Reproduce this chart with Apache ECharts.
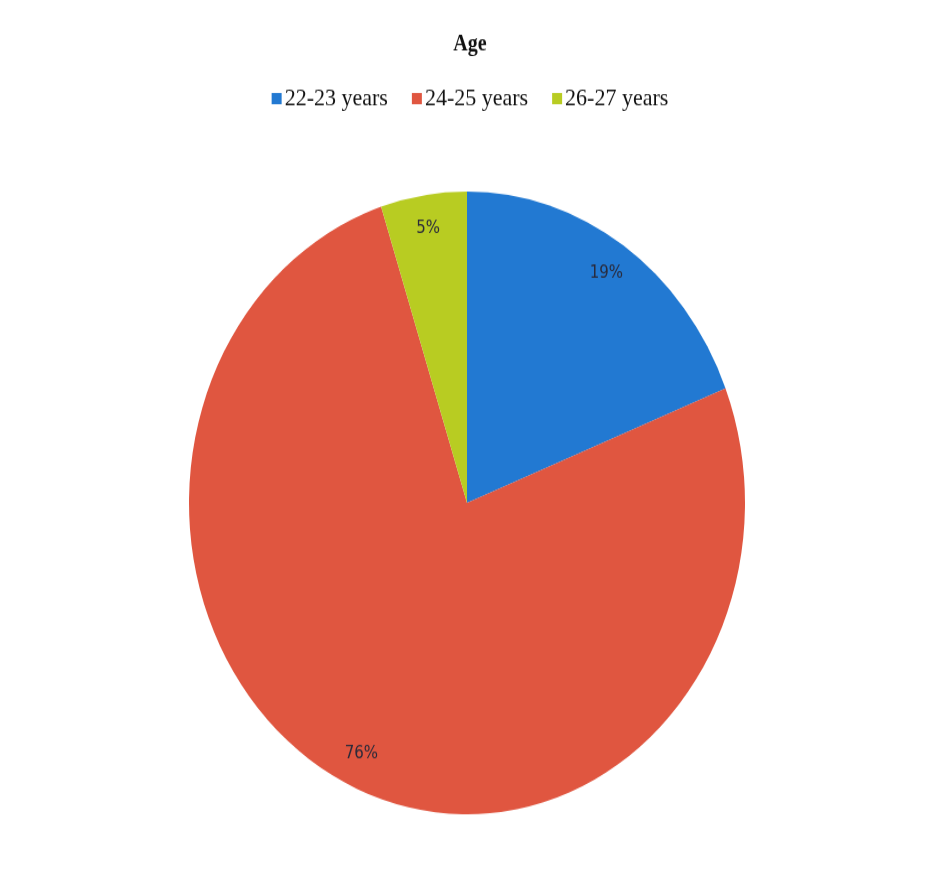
<!DOCTYPE html>
<html>
<head>
<meta charset="utf-8">
<script src="https://cdn.jsdelivr.net/npm/echarts@6/dist/echarts.min.js"></script>
<style>
  html, body { margin: 0; padding: 0; background: #fff; }
  #wrap { width: 940px; height: 890px; overflow: hidden; }
  /* the reference pie is a bit taller than wide, so the whole chart is stretched vertically */
  #chart { width: 940px; height: 795px; transform: scale(1, 1.12); transform-origin: 0 0; }
</style>
</head>
<body>
<div id="wrap"><div id="chart"></div></div>
<script>
// age groups and their share
const categories = ['22-23 years', '24-25 years', '26-27 years']
const values = [19, 76, 5]
const colors = ['#2279d2', '#e05640', '#b8cc22']

const pieData = categories.map((name, i) => ({ name: name, value: values[i] }))

const chart = echarts.init(document.getElementById('chart'))
chart.setOption({
  backgroundColor: '#fff',
  color: colors,
  title: {
    text: 'Age',
    left: 'center',
    top: 25,
    textStyle: { fontFamily: 'Liberation Serif', fontSize: 20, fontWeight: 'bold', color: '#111' }
  },
  legend: {
    data: categories,
    top: 72,
    left: 'center',
    itemWidth: 10,
    itemHeight: 10,
    itemGap: 24,
    icon: 'rect',
    textStyle: { fontFamily: 'Liberation Serif', fontSize: 22, color: '#111', padding: [0, 0, 0, -2] }
  },
  series: [
    {
      // the pie itself
      type: 'pie',
      center: [467, 449],
      radius: [0, 278],
      startAngle: 90,
      clockwise: true,
      label: { show: false },
      labelLine: { show: false },
      emphasis: { disabled: true },
      data: pieData
    },
    {
      // transparent ring only to place the percent labels near the rim
      type: 'pie',
      silent: true,
      center: [467, 449],
      radius: [212, 278],
      startAngle: 90,
      clockwise: true,
      itemStyle: { color: 'rgba(0,0,0,0)' },
      label: {
        show: true,
        position: 'inside',
        formatter: '{d}%',
        fontFamily: 'DejaVu Sans',
        fontSize: 15,
        color: '#2a2a3a'
      },
      labelLine: { show: false },
      data: pieData
    }
  ]
})
</script>
</body>
</html>
